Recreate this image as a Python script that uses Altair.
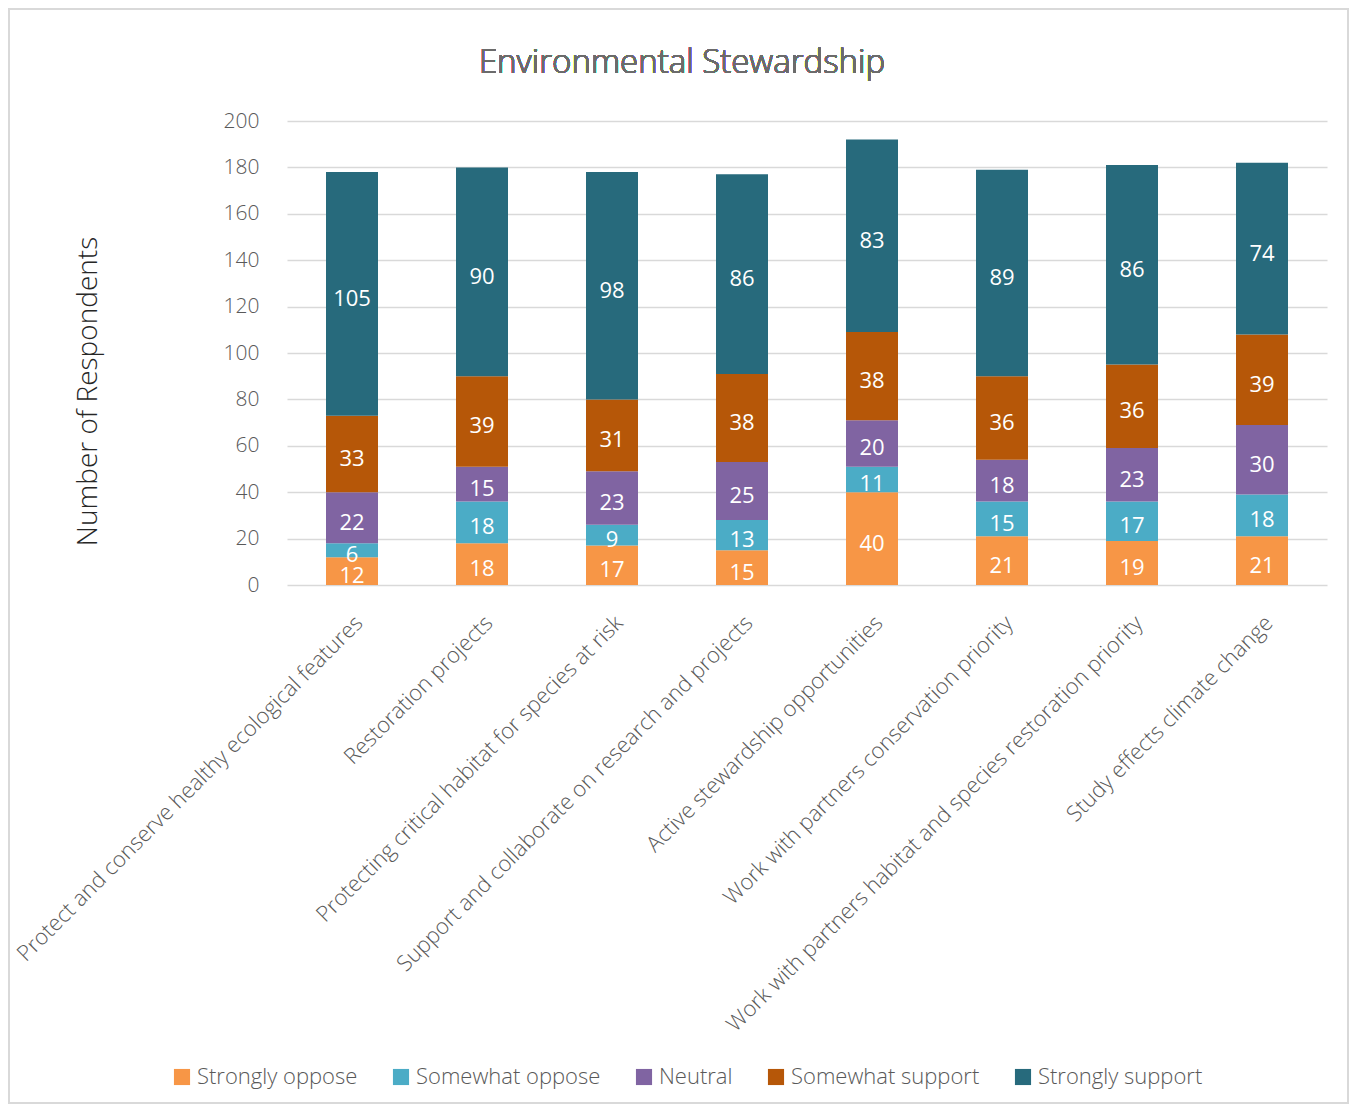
import altair as alt
import pandas as pd

categories = [
    "Protect and conserve healthy ecological features",
    "Restoration projects",
    "Protecting critical habitat for species at risk",
    "Support and collaborate on research and projects",
    "Active stewardship opportunities",
    "Work with partners conservation priority",
    "Work with partners habitat and species restoration priority",
    "Study effects climate change",
]
series = ["Strongly oppose", "Somewhat oppose", "Neutral", "Somewhat support", "Strongly support"]
colors = ["#F79646", "#4BACC6", "#8064A2", "#B65708", "#276A7C"]

strongly_oppose = [12, 18, 17, 15, 40, 21, 19, 21]
somewhat_oppose = [6, 18, 9, 13, 11, 15, 17, 18]
neutral = [22, 15, 23, 25, 20, 18, 23, 30]
somewhat_support = [33, 39, 31, 38, 38, 36, 36, 39]
strongly_support = [105, 90, 98, 86, 83, 89, 86, 74]

chart_title = "Environmental Stewardship"

values = [strongly_oppose, somewhat_oppose, neutral, somewhat_support, strongly_support]
rows = []
for si, (s, vals) in enumerate(zip(series, values)):
    for c, v in zip(categories, vals):
        rows.append({"cat": c, "series": s, "value": v, "order": si})
df = pd.DataFrame(rows)

FONT = "Open Sans"
GRAY = "#595959"

W, H = 1040, 464
PAD = {"left": 279, "top": 113, "right": 22, "bottom": 519}

base = alt.Chart(df).transform_stack(
    stack="value", groupby=["cat"], as_=["y0", "y1"], sort=[alt.SortField("order")]
).transform_calculate(mid="(datum.y0 + datum.y1) / 2")

x = alt.X("cat:N", sort=categories, title=None,
          scale=alt.Scale(paddingInner=0, paddingOuter=0),
          axis=alt.Axis(labelAngle=-45, labelFontSize=22, labelColor=GRAY, labelFont=FONT,
                        labelFontWeight=300, ticks=False, domain=False, labelPadding=27,
                        labelLimit=800))

bars = base.mark_bar(size=52).encode(
    x=x,
    y=alt.Y("y0:Q", scale=alt.Scale(domain=[0, 200]),
            axis=alt.Axis(values=list(range(0, 201, 20)), title="Number of Respondents",
                          titleFontSize=28, titleFont=FONT, titleFontWeight=300, titleColor="#262626",
                          titleX=-199, titleY=270, titleAngle=-90, titleAlign="center",
                          titleBaseline="middle",
                          labelFontSize=21, labelColor=GRAY, labelFont=FONT, labelFontWeight=300,
                          ticks=False, domain=False, gridColor="#d9d9d9", gridWidth=1.5,
                          labelPadding=28)),
    y2="y1:Q",
    color=alt.Color("series:N", sort=series, scale=alt.Scale(domain=series, range=colors),
                    legend=alt.Legend(title=None, orient="none", direction="horizontal",
                                      legendX=-116, legendY=945, symbolType="square",
                                      symbolSize=260, symbolStrokeWidth=0, labelFontSize=22,
                                      labelFont=FONT, labelFontWeight=300, labelColor=GRAY,
                                      columnPadding=32, labelLimit=400, symbolOpacity=1)),
)

labels = base.mark_text(color="white", fontSize=22, font=FONT, baseline="middle", dy=5).encode(
    x=alt.X("cat:N", sort=categories),
    y=alt.Y("mid:Q"),
    text=alt.Text("value:Q"),
)

title = alt.Chart(df).mark_text(fontSize=33, font=FONT, fontWeight=300, color="#6b6b6b",
                                align="center", baseline="middle").encode(
    x=alt.value(395), y=alt.value(-58), text=alt.value(chart_title)
)

border = alt.Chart(df).mark_rect(fill=None, stroke="#d9d9d9", strokeWidth=1.5).encode(
    x=alt.value(-PAD["left"] + 1), x2=alt.value(W + PAD["right"] - 1),
    y=alt.value(-PAD["top"] + 1), y2=alt.value(H + PAD["bottom"] - 1)
)

chart = alt.layer(border, bars, labels, title).properties(
    width=W, height=H,
    autosize=alt.AutoSizeParams(type="none"),
    padding=PAD,
).configure(background="white").configure_view(stroke=None)

chart.save("out.html", embed_options={"renderer": "svg", "actions": False})
